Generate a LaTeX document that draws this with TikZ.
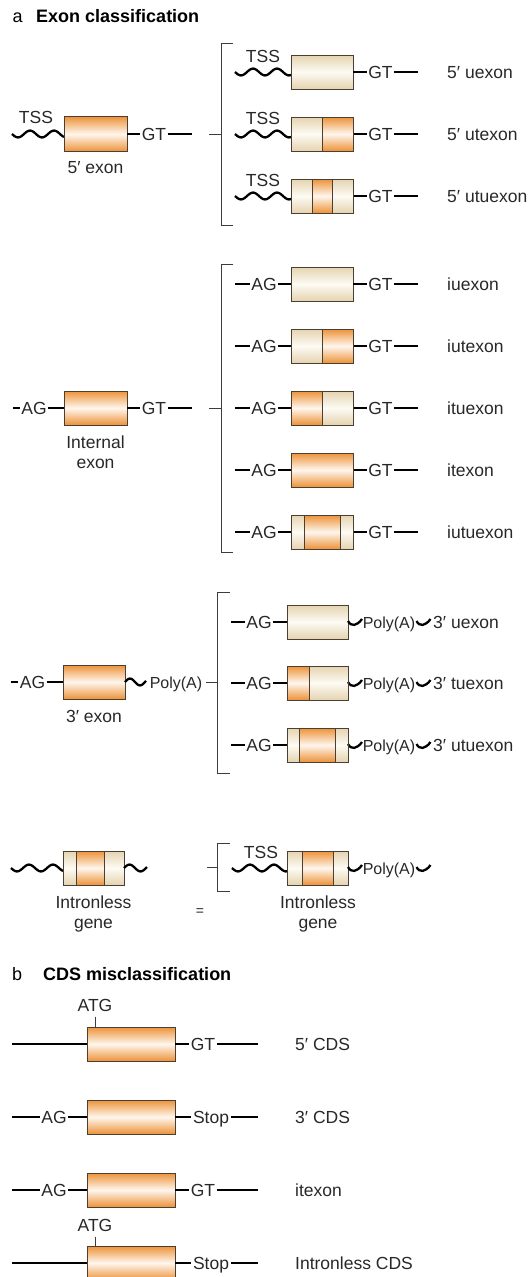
\documentclass[tikz,border=0pt]{standalone}
\usepackage{fontspec}
\setmainfont{Liberation Sans}
\usetikzlibrary{calc}
\definecolor{orc}{RGB}{236,146,56}
\definecolor{orw}{RGB}{255,247,238}
\definecolor{plc}{RGB}{228,212,175}
\definecolor{plw}{RGB}{254,251,244}
\definecolor{edgec}{RGB}{75,62,50}
\definecolor{txc}{RGB}{40,40,40}
\definecolor{brc}{RGB}{60,60,60}
\tikzset{
  dnaline/.style={line width=2.6pt, black},
  wavyline/.style={line width=2.3pt, black},
  thinline/.style={line width=1pt, brc},
  lbl/.style={inner sep=1.5pt, text=txc, text height=12pt, text depth=0pt, font=\fontsize{17.5}{19}\selectfont},
  lblw/.style={lbl, anchor=west, inner sep=0pt},
  boxnode/.style={rectangle, inner sep=0pt, outer sep=0pt, draw=edgec, line width=1pt, top color=plc, bottom color=plc, middle color=plw},
  orsh/.style={top color=orc, bottom color=orc, middle color=orw},
  edgeln/.style={draw=edgec, line width=1pt},
  ttl/.style={anchor=west, inner sep=0pt, text height=12.5pt, text depth=0pt, font=\fontsize{18}{20}\selectfont},
}
\newcommand{\gbox}[6]{\node[boxnode,minimum width=#4pt,minimum height=#5pt,#6] (#1) at (#2,#3) {};}
\newcommand{\oseg}[3]{\shade[orsh] ($(#1.north west)!#2!(#1.north east)$) rectangle ($(#1.south west)!#3!(#1.south east)$);}
\newcommand{\bdiv}[2]{\draw[edgeln] ($(#1.north west)!#2!(#1.north east)$) -- ($(#1.south west)!#2!(#1.south east)$);}
\newcommand{\bframe}[1]{\draw[edgeln] (#1.north west) rectangle (#1.south east);}
\newcommand{\wv}[5]{\draw[wavyline] plot[domain=#1:#2, samples=70, variable=\t] (\t, {#3 + #5*3.4*sin((\t-#1)/#4*360)});}
\newcommand{\sw}[2]{\draw[wavyline] (#1,#2-1) .. controls (#1+3,#2+5) and (#1+9,#2+4) .. (#1+14,#2-3);}
\begin{document}
\begin{tikzpicture}[x=1pt,y=-1pt]
\useasboundingbox (0,0) rectangle (531,1277);

% ---------- titles
\node[ttl] (ta) at (12.5,16) {a};
\node[ttl, font=\fontsize{18}{20}\selectfont\bfseries] (tb) at (36,16) {Exon classification};

% ---------- 5' exon
\node[lbl] (tss0) at (36,117) {TSS};
\wv{12}{64}{134}{24}{1}
\gbox{b0}{95.5}{134}{63}{35}{orsh}
\node[lbl] (gt0) at (154,134) {GT};
\draw[dnaline] (b0.east) -- (gt0.west);
\draw[dnaline] (gt0.east) -- (192,134) coordinate (gte0);
\node[lbl] (n5e) at (95.5,167) {5′ exon};
\draw[thinline] (209,134) coordinate (tk1) -- (221,134);
\draw[thinline] (233,43) -- (221,43) -- (221,225) -- (233,225);

\foreach \i/\y in {1/72,2/134,3/196}{
  \node[lbl] (tss\i) at (263,\y-16) {TSS};
  \wv{235}{291}{\y}{24}{1}
  \gbox{b\i}{322}{\y}{62}{34}{}
  \node[lbl] (gt\i) at (380.5,\y) {GT};
  \draw[dnaline] (b\i.east) -- (gt\i.west);
  \draw[dnaline] (gt\i.east) -- (418,\y) coordinate (gte\i);
}
\oseg{b2}{0.51}{1}\bdiv{b2}{0.51}\bframe{b2}
\oseg{b3}{0.34}{0.67}\bdiv{b3}{0.34}\bdiv{b3}{0.67}\bframe{b3}
\node[lblw] (l1) at (447,72) {5′ uexon};
\node[lblw] (l2) at (447,134) {5′ utexon};
\node[lblw] (l3) at (447,196) {5′ utuexon};

% ---------- internal exon
\node[lbl] (ag0) at (34,408) {AG};
\draw[dnaline] (13,408) coordinate (s0) -- (ag0.west);
\gbox{c0}{95.5}{408}{63}{34}{orsh}
\draw[dnaline] (ag0.east) -- (c0.west);
\node[lbl] (gtc0) at (154,408) {GT};
\draw[dnaline] (c0.east) -- (gtc0.west);
\draw[dnaline] (gtc0.east) -- (192,408) coordinate (gtce0);
\node[lbl] (ni1) at (95.5,442) {Internal};
\node[lbl] (ni2) at (95.5,462) {exon};
\draw[thinline] (209,408) coordinate (tk2) -- (221,408);
\draw[thinline] (233,264) -- (221,264) -- (221,552) -- (233,552);

\foreach \i/\y in {1/284,2/346,3/408,4/470,5/532}{
  \node[lbl] (agc\i) at (264,\y) {AG};
  \draw[dnaline] (235,\y) coordinate (sc\i) -- (agc\i.west);
  \gbox{c\i}{322}{\y}{62}{34}{}
  \draw[dnaline] (agc\i.east) -- (c\i.west);
  \node[lbl] (gtc\i) at (380.5,\y) {GT};
  \draw[dnaline] (c\i.east) -- (gtc\i.west);
  \draw[dnaline] (gtc\i.east) -- (418,\y) coordinate (gtce\i);
}
\oseg{c2}{0.51}{1}\bdiv{c2}{0.51}\bframe{c2}
\oseg{c3}{0}{0.51}\bdiv{c3}{0.51}\bframe{c3}
\oseg{c4}{0}{1}\bframe{c4}
\oseg{c5}{0.215}{0.795}\bdiv{c5}{0.215}\bdiv{c5}{0.795}\bframe{c5}
\node[lblw] (m1) at (447,284) {iuexon};
\node[lblw] (m2) at (447,346) {iutexon};
\node[lblw] (m3) at (447,408) {ituexon};
\node[lblw] (m4) at (447,470) {itexon};
\node[lblw] (m5) at (447,532) {iutuexon};

% ---------- 3' exon
\node[lbl] (ag3) at (32.5,682) {AG};
\draw[dnaline] (11,682) coordinate (s3) -- (ag3.west);
\gbox{d0}{94}{682}{62}{34}{orsh}
\draw[dnaline] (ag3.east) -- (d0.west);
\wv{125}{146}{682}{20}{-1}
\node[lbl, font=\fontsize{16}{18}\selectfont] (pa0) at (176,682) {Poly(A)};
\node[lbl] (n3e) at (94,716) {3′ exon};
\draw[thinline] (206,682) coordinate (tk3) -- (217,682);
\draw[thinline] (230,592) -- (217,592) -- (217,773) -- (230,773);

\foreach \i/\y in {1/622,2/683,3/745}{
  \node[lbl] (agd\i) at (259,\y) {AG};
  \draw[dnaline] (231,\y) coordinate (sd\i) -- (agd\i.west);
  \gbox{d\i}{317.5}{\y}{61}{34}{}
  \draw[dnaline] (agd\i.east) -- (d\i.west);
  \sw{348}{\y}
  \node[lbl, font=\fontsize{16}{18}\selectfont] (pa\i) at (389,\y) {Poly(A)};
  \sw{416.5}{\y}
}
\oseg{d2}{0}{0.365}\bdiv{d2}{0.365}\bframe{d2}
\oseg{d3}{0.21}{0.79}\bdiv{d3}{0.21}\bdiv{d3}{0.79}\bframe{d3}
\node[lblw] (p1) at (433,622) {3′ uexon};
\node[lblw] (p2) at (433,683) {3′ tuexon};
\node[lblw] (p3) at (433,745) {3′ utuexon};

% ---------- intronless gene
\wv{11}{63}{868}{24}{1}
\gbox{g0}{93.7}{868}{61}{34}{}
\oseg{g0}{0.225}{0.67}\bdiv{g0}{0.225}\bdiv{g0}{0.67}\bframe{g0}
\wv{124}{147}{868}{22}{-1}
\node[lbl] (ig1) at (93.5,902) {Intronless};
\node[lbl] (ig2) at (93.5,922) {gene};
\node[lbl, font=\fontsize{14}{16}\selectfont, text height=7pt] (eq) at (200,912) {=};
\draw[thinline] (207,867) coordinate (tk4) -- (217,867);
\draw[thinline] (230,843) -- (217,843) -- (217,891) -- (230,891);
\node[lbl] (tssg) at (261,852) {TSS};
\wv{232}{287}{868}{24}{1}
\gbox{g1}{317.5}{868}{61}{34}{}
\oseg{g1}{0.26}{0.76}\bdiv{g1}{0.26}\bdiv{g1}{0.76}\bframe{g1}
\sw{348}{868}
\node[lbl, font=\fontsize{16}{18}\selectfont] (pag) at (389,868) {Poly(A)};
\sw{416.5}{868}
\node[lbl] (ig3) at (318,902) {Intronless};
\node[lbl] (ig4) at (318,922) {gene};

% ---------- b: CDS misclassification
\node[ttl] (tbb) at (12,974) {b};
\node[ttl, font=\fontsize{18}{20}\selectfont\bfseries] (tbc) at (43,974) {CDS misclassification};

% row 1
\gbox{e1}{131}{1044}{88}{34}{orsh}
\draw[dnaline] (12,1044) coordinate (se1) -- (e1.west);
\node[lbl] (atg1) at (95,1005) {ATG};
\draw[thinline] ([yshift=-4pt]atg1.south) -- (atg1.south |- e1.north);
\node[lbl] (gte1b) at (203,1044) {GT};
\draw[dnaline] (e1.east) -- (gte1b.west);
\draw[dnaline] (gte1b.east) -- (258,1044) coordinate (ee1);
\node[lblw] (q1) at (295,1044) {5′ CDS};

% row 2
\gbox{e2}{131}{1117}{88}{34}{orsh}
\node[lbl] (age2) at (54,1117) {AG};
\draw[dnaline] (12,1117) coordinate (se2) -- (age2.west);
\draw[dnaline] (age2.east) -- (e2.west);
\node[lbl] (st2) at (211,1117) {Stop};
\draw[dnaline] (e2.east) -- (st2.west);
\draw[dnaline] (st2.east) -- (258,1117) coordinate (ee2);
\node[lblw] (q2) at (295,1117) {3′ CDS};

% row 3
\gbox{e3}{131}{1190}{88}{34}{orsh}
\node[lbl] (age3) at (54,1190) {AG};
\draw[dnaline] (12,1190) coordinate (se3) -- (age3.west);
\draw[dnaline] (age3.east) -- (e3.west);
\node[lbl] (gte3) at (203,1190) {GT};
\draw[dnaline] (e3.east) -- (gte3.west);
\draw[dnaline] (gte3.east) -- (258,1190) coordinate (ee3);
\node[lblw] (q3) at (295,1190) {itexon};

% row 4
\gbox{e4}{131}{1263}{88}{34}{orsh}
\draw[dnaline] (12,1263) coordinate (se4) -- (e4.west);
\node[lbl] (atg4) at (95,1225) {ATG};
\draw[thinline] ([yshift=-4pt]atg4.south) -- (atg4.south |- e4.north);
\node[lbl] (st4) at (211,1263) {Stop};
\draw[dnaline] (e4.east) -- (st4.west);
\draw[dnaline] (st4.east) -- (258,1263) coordinate (ee4);
\node[lblw] (q4) at (295,1263) {Intronless CDS};
\end{tikzpicture}
\end{document}
